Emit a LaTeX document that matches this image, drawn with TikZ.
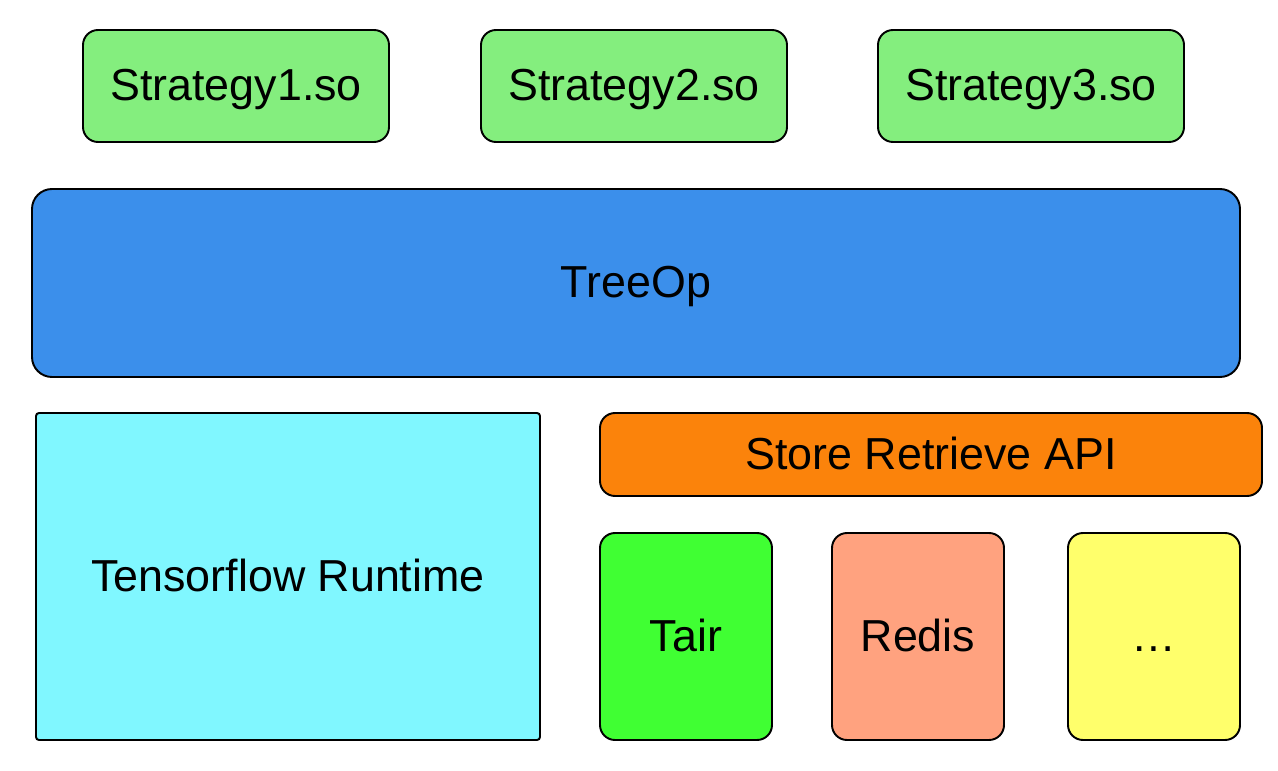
\documentclass[tikz,border=0pt]{standalone}
\usepackage{fontspec}
\setmainfont{Liberation Sans}

\definecolor{solib}{HTML}{84EE7E}
\definecolor{treeop}{HTML}{3B8FEB}
\definecolor{tfrun}{HTML}{80F7FF}
\definecolor{storeapi}{HTML}{FB830B}
\definecolor{tair}{HTML}{40FF33}
\definecolor{redis}{HTML}{FFA27F}
\definecolor{other}{HTML}{FFFF6B}

\begin{document}
\begin{tikzpicture}
\tikzset{boite/.style={draw, line width=1.1pt, rounded corners=0.3cm, inner sep=0pt, text height=17pt, text depth=0pt, font=\fontsize{25.5}{29}\selectfont}}
\tikzset{strat/.style={boite, fill=solib, minimum width=6.12cm, minimum height=2.24cm}}
\tikzset{backend/.style={boite, minimum width=3.44cm, minimum height=4.14cm}}
\useasboundingbox (0, 0) rectangle (25.56, 15.4);
\node[strat] (S1) at (4.72, 13.68) {Strategy1.so};
\node[strat] (S2) at (12.68, 13.68) {Strategy2.so};
\node[strat] (S3) at (20.62, 13.68) {Strategy3.so};
\node[boite, fill=treeop, rounded corners=0.4cm, minimum width=24.16cm, minimum height=3.76cm] (T) at (12.72, 9.74) {TreeOp};
\node[boite, fill=tfrun, rounded corners=0.06cm, minimum width=10.08cm, minimum height=6.54cm] (TF) at (5.76, 3.87) {Tensorflow Runtime};
\node[boite, fill=storeapi, minimum width=13.24cm, minimum height=1.66cm] (API) at (18.62, 6.31) {Store Retrieve API};
\node[backend, fill=tair] (B1) at (13.72, 2.67) {Tair};
\node[backend, fill=redis] (B2) at (18.36, 2.67) {Redis};
\node[backend, fill=other] (B3) at (23.08, 2.67) {…};
\end{tikzpicture}
\end{document}
